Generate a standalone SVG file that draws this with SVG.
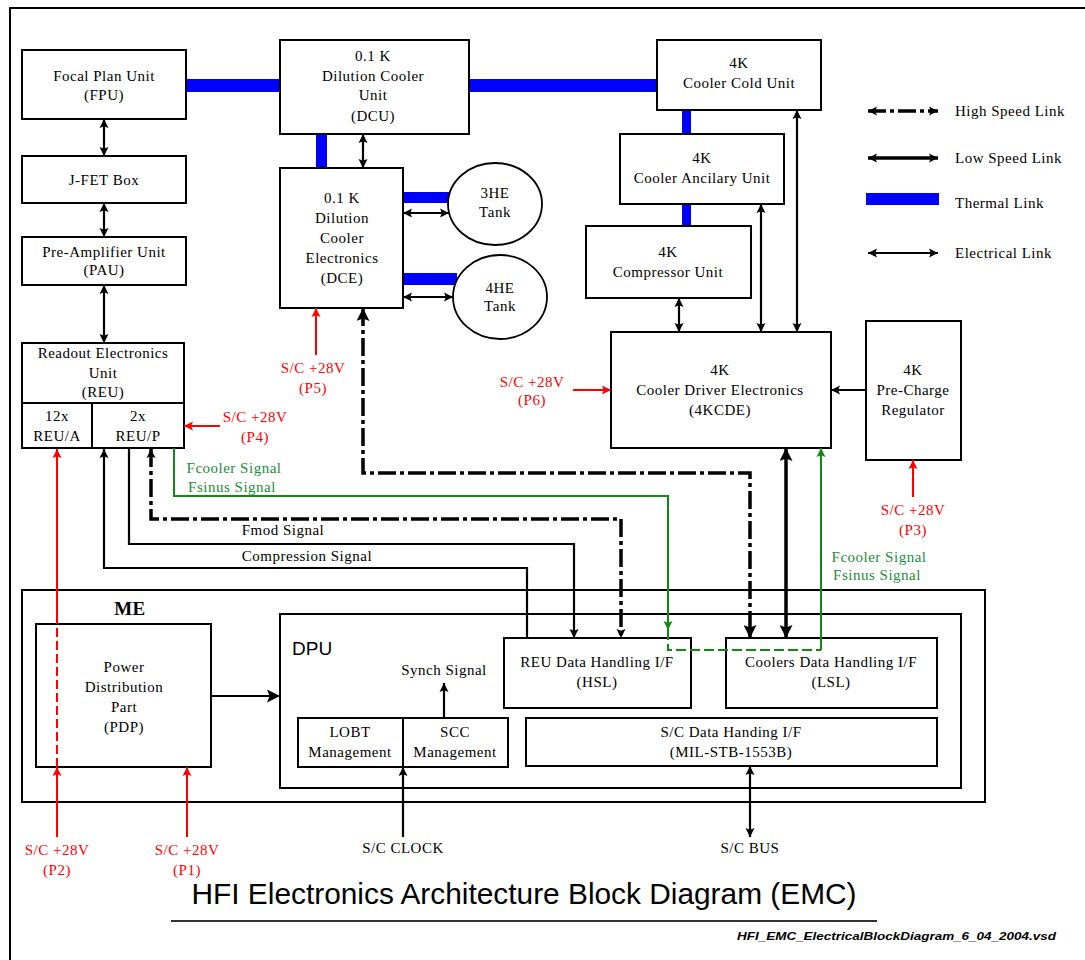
<svg xmlns="http://www.w3.org/2000/svg" width="1085" height="960" viewBox="0 0 1085 960">
<style>
text{font-family:"Liberation Serif","Times New Roman",serif;font-size:15px;fill:#000;text-anchor:middle;letter-spacing:0.5px}
.box{fill:#fff;stroke:#000;stroke-width:2}
.red{fill:#f00}
.grn{fill:#1e8c3c}
.th{fill:#0000ff}
.el{fill:none;stroke:#000;stroke-width:2.2}
.hs{fill:none;stroke:#000;stroke-width:3.5;stroke-dasharray:18,4,4,4}
.ls{fill:none;stroke:#000;stroke-width:3.5}
.rl{fill:none;stroke:#f00;stroke-width:2}
.gl{fill:none;stroke:#118a11;stroke-width:2}
</style>
<defs>
<marker id="a" viewBox="0 0 10 10" refX="10" refY="5" markerWidth="9" markerHeight="10" markerUnits="userSpaceOnUse" orient="auto-start-reverse"><path d="M0,0 L10,5 L0,10 L2,5 z" fill="#000"/></marker>
<marker id="A" viewBox="0 0 10 10" refX="10" refY="5" markerWidth="14" markerHeight="13" markerUnits="userSpaceOnUse" orient="auto-start-reverse"><path d="M0,0 L10,5 L0,10 L2,5 z" fill="#000"/></marker>
<marker id="r" viewBox="0 0 10 10" refX="10" refY="5" markerWidth="9" markerHeight="10" markerUnits="userSpaceOnUse" orient="auto-start-reverse"><path d="M0,0 L10,5 L0,10 L2,5 z" fill="#f00"/></marker>
<marker id="g" viewBox="0 0 10 10" refX="10" refY="5" markerWidth="9" markerHeight="10" markerUnits="userSpaceOnUse" orient="auto-start-reverse"><path d="M0,0 L10,5 L0,10 L2,5 z" fill="#118a11"/></marker>
</defs>
<rect width="1085" height="960" fill="#fff"/>
<path d="M10,960 V8 H1085" fill="none" stroke="#000" stroke-width="2"/>

<g id="ME">
<rect x="22" y="590" width="963" height="212" fill="#fff" stroke="#000" stroke-width="2"/>
<text x="130" y="615" style="font-weight:bold;font-size:19px">ME</text>
</g>
<g id="DPU">
<rect x="280" y="614" width="681" height="174" fill="#fff" stroke="#000" stroke-width="2"/>
<text x="292" y="655" style="font-family:'Liberation Sans',Arial,sans-serif;font-size:19px;text-anchor:start;letter-spacing:0">DPU</text>
<text x="444" y="675">Synch Signal</text>
</g>

<g id="thermal">
<rect class="th" x="186" y="79" width="94" height="13"/>
<rect class="th" x="469" y="79" width="188" height="13"/>
<rect class="th" x="316" y="134" width="11" height="34"/>
<rect class="th" x="403" y="192" width="47" height="11"/>
<rect class="th" x="403" y="273" width="54" height="12"/>
<rect class="th" x="682" y="110" width="9" height="24"/>
<rect class="th" x="682" y="204" width="9" height="22"/>
</g>

<g id="FPU"><rect class="box" x="22" y="50" width="164" height="69"/><text x="104" y="81">Focal Plan Unit</text><text x="104" y="100">(FPU)</text></g>
<g id="JFET"><rect class="box" x="22" y="156" width="164" height="47"/><text x="104" y="185">J-FET Box</text></g>
<g id="PAU"><rect class="box" x="22" y="237" width="164" height="48"/><text x="104" y="257">Pre-Amplifier Unit</text><text x="104" y="275">(PAU)</text></g>
<g id="REU"><rect class="box" x="22" y="343" width="162" height="105"/><path d="M22,403 H184 M92,403 V448" stroke="#000" stroke-width="2"/>
<text x="103" y="358">Readout Electronics</text><text x="103" y="378">Unit</text><text x="103" y="397">(REU)</text>
<text x="57" y="421">12x</text><text x="57" y="441">REU/A</text><text x="138" y="421">2x</text><text x="138" y="441">REU/P</text></g>
<g id="DCU"><rect class="box" x="280" y="40" width="189" height="94"/><text x="373" y="61">0.1 K</text><text x="373" y="81">Dilution Cooler</text><text x="373" y="100">Unit</text><text x="373" y="121">(DCU)</text></g>
<g id="DCE"><rect class="box" x="280" y="168" width="123" height="140"/><text x="342" y="203">0.1 K</text><text x="342" y="223">Dilution</text><text x="342" y="243">Cooler</text><text x="342" y="263">Electronics</text><text x="342" y="283">(DCE)</text></g>
<g id="tank3"><ellipse cx="495" cy="204" rx="47" ry="41" fill="#fff" stroke="#000" stroke-width="1.8"/><text x="495" y="198">3HE</text><text x="495" y="217">Tank</text></g>
<g id="tank4"><ellipse cx="500" cy="297" rx="47" ry="42" fill="#fff" stroke="#000" stroke-width="1.8"/><text x="500" y="293">4HE</text><text x="500" y="311">Tank</text></g>
<g id="CCU"><rect class="box" x="657" y="40" width="164" height="70"/><text x="739" y="68">4K</text><text x="739" y="88">Cooler Cold Unit</text></g>
<g id="CAU"><rect class="box" x="620" y="134" width="164" height="70"/><text x="702" y="163">4K</text><text x="702" y="183">Cooler Ancilary Unit</text></g>
<g id="CU"><rect class="box" x="586" y="226" width="165" height="72"/><text x="668" y="257">4K</text><text x="668" y="277">Compressor Unit</text></g>
<g id="CDE"><rect class="box" x="611" y="332" width="220" height="116"/><text x="720" y="375">4K</text><text x="720" y="395">Cooler Driver Electronics</text><text x="720" y="415">(4KCDE)</text></g>
<g id="PCR"><rect class="box" x="866" y="321" width="95" height="139"/><text x="913" y="375">4K</text><text x="913" y="395">Pre-Charge</text><text x="913" y="415">Regulator</text></g>
<g id="PDP"><rect class="box" x="36" y="624" width="175" height="143"/><text x="124" y="672">Power</text><text x="124" y="692">Distribution</text><text x="124" y="712">Part</text><text x="124" y="732">(PDP)</text></g>
<g id="LOBT"><rect class="box" x="298" y="718" width="105" height="49"/><text x="350" y="737">LOBT</text><text x="350" y="757">Management</text></g>
<g id="SCC"><rect class="box" x="403" y="718" width="105" height="49"/><text x="455" y="737">SCC</text><text x="455" y="757">Management</text></g>
<g id="HSL"><rect class="box" x="504" y="638" width="187" height="70"/><text x="597" y="667">REU Data Handling I/F</text><text x="597" y="687">(HSL)</text></g>
<g id="LSL"><rect class="box" x="726" y="638" width="211" height="70"/><text x="831" y="667">Coolers Data Handling I/F</text><text x="831" y="687">(LSL)</text></g>
<g id="SCDH"><rect class="box" x="526" y="718" width="411" height="48"/><text x="731" y="737">S/C Data Handing I/F</text><text x="731" y="757">(MIL-STB-1553B)</text></g>

<g id="connectors">
<path class="el" d="M104,119 V156" marker-start="url(#a)" marker-end="url(#a)"/>
<path class="el" d="M104,203 V237" marker-start="url(#a)" marker-end="url(#a)"/>
<path class="el" d="M104,285 V343" marker-start="url(#a)" marker-end="url(#a)"/>
<path class="el" d="M363,134 V168" marker-start="url(#a)" marker-end="url(#a)"/>
<path class="el" d="M403,213 H449" marker-start="url(#a)" marker-end="url(#a)"/>
<path class="el" d="M403,297 H453" marker-start="url(#a)" marker-end="url(#a)"/>
<path class="el" d="M679,298 V332" marker-start="url(#a)" marker-end="url(#a)"/>
<path class="el" d="M761,204 V332" marker-start="url(#a)" marker-end="url(#a)"/>
<path class="el" d="M797,110 V332" marker-start="url(#a)" marker-end="url(#a)"/>
<path class="el" d="M866,390 H831" marker-end="url(#a)"/>
<path class="el" d="M104,449 V568 H527 V638" stroke-width="1.6" marker-start="url(#a)"/>
<path class="el" d="M129,448 V544 H574 V638" stroke-width="1.6" marker-end="url(#a)"/>
<path class="hs" d="M151,449 V519 H621 V638" marker-start="url(#a)" marker-end="url(#a)"/>
<path class="hs" d="M363,308 V473 H750 V638" stroke-dasharray="26,3,4,3" marker-start="url(#A)" marker-end="url(#A)"/>
<path class="ls" d="M786,448 V638" marker-start="url(#A)" marker-end="url(#A)"/>
<path class="el" d="M211,696 H280" marker-end="url(#A)"/>
<path class="el" d="M444,718 V683" marker-end="url(#a)"/>
<path class="el" d="M403,837 V767" marker-end="url(#a)"/>
<path class="el" d="M750,766 V837" marker-start="url(#a)" marker-end="url(#a)"/>
<path class="rl" d="M220,426 H184" marker-end="url(#r)"/>
<path class="rl" d="M316,355 V308" marker-end="url(#r)"/>
<path class="rl" d="M573,390 H611" marker-end="url(#r)"/>
<path class="rl" d="M913,497 V460" marker-end="url(#r)"/>
<path class="rl" d="M187,837 V767" marker-end="url(#r)"/>
<path class="rl" d="M57,837 V767" marker-end="url(#r)"/>
<path class="rl" d="M57,767 V624" stroke-width="3" stroke-dasharray="9,4"/>
<path class="rl" d="M57,624 V449" marker-end="url(#r)"/>
<path class="gl" d="M174,448 V496 H668 V630" stroke-width="1.6" marker-end="url(#g)"/>
<path class="gl" d="M668,630 V650 H821" stroke-width="3" stroke-dasharray="10,4"/>
<path class="gl" d="M821,650 V448" stroke-width="1.6" marker-end="url(#g)"/>
</g>

<g id="labels">
<text class="red" x="255" y="422">S/C +28V</text><text class="red" x="255" y="442">(P4)</text>
<text class="red" x="313" y="373">S/C +28V</text><text class="red" x="313" y="393">(P5)</text>
<text class="red" x="532" y="387">S/C +28V</text><text class="red" x="532" y="405">(P6)</text>
<text class="red" x="913" y="515">S/C +28V</text><text class="red" x="913" y="535">(P3)</text>
<text class="red" x="57" y="855">S/C +28V</text><text class="red" x="57" y="875">(P2)</text>
<text class="red" x="187" y="855">S/C +28V</text><text class="red" x="187" y="875">(P1)</text>
<text class="grn" x="234" y="473">Fcooler Signal</text><text class="grn" x="232" y="492">Fsinus Signal</text>
<text class="grn" x="879" y="562">Fcooler Signal</text><text class="grn" x="877" y="580">Fsinus Signal</text>
<text x="283" y="535">Fmod Signal</text>
<text x="307" y="561">Compression Signal</text>
<text x="403" y="853">S/C CLOCK</text>
<text x="750" y="853">S/C BUS</text>
</g>

<g id="legend">
<path class="hs" d="M868,111 H938" stroke-dasharray="22,6,3,6" marker-start="url(#a)" marker-end="url(#a)"/>
<path class="ls" d="M868,158 H938" marker-start="url(#a)" marker-end="url(#a)"/>
<rect class="th" x="866" y="193" width="73" height="12"/>
<path class="el" d="M868,253 H938" marker-start="url(#a)" marker-end="url(#a)"/>
<text x="955" y="116" style="text-anchor:start">High Speed Link</text>
<text x="955" y="163" style="text-anchor:start">Low Speed Link</text>
<text x="955" y="208" style="text-anchor:start">Thermal Link</text>
<text x="955" y="258" style="text-anchor:start">Electrical Link</text>
</g>

<g id="title">
<text x="524" y="904" style="font-family:'Liberation Sans',Arial,sans-serif;font-size:29px;letter-spacing:0" textLength="665" lengthAdjust="spacingAndGlyphs">HFI Electronics Architecture Block Diagram (EMC)</text>
<line x1="171" y1="921" x2="877" y2="921" stroke="#333" stroke-width="2"/>
<text x="1056" y="940" style="font-family:'Liberation Sans',Arial,sans-serif;font-size:11px;font-weight:bold;font-style:italic;text-anchor:end;letter-spacing:0" textLength="319" lengthAdjust="spacingAndGlyphs">HFI_EMC_ElectricalBlockDiagram_6_04_2004.vsd</text>
</g>
</svg>
